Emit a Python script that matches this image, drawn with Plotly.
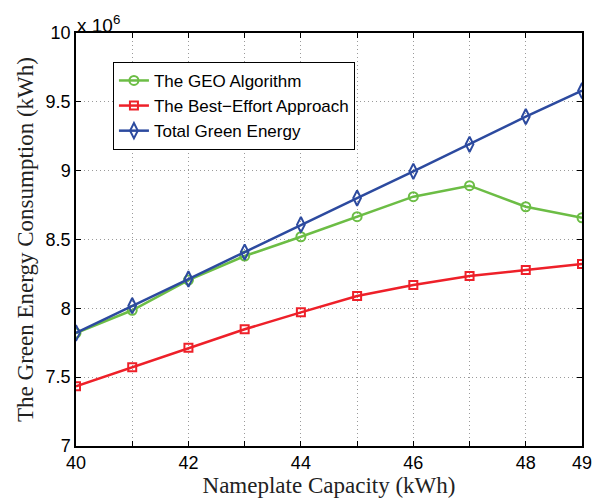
import plotly.graph_objects as go

capacity = [40, 41, 42, 43, 44, 45, 46, 47, 48, 49]
geo = [7.82, 7.986, 8.205, 8.38, 8.52, 8.666, 8.811, 8.891, 8.738, 8.658]
best_effort = [7.434, 7.572, 7.714, 7.848, 7.971, 8.09, 8.169, 8.235, 8.278, 8.322]
total_green = [7.821, 8.019, 8.213, 8.409, 8.608, 8.801, 8.995, 9.191, 9.392, 9.581]

x_tickvals = list(range(40, 50))
x_ticktext = ["40", "", "42", "", "44", "", "46", "", "48", "49"]
y_tickvals = [7, 7.5, 8, 8.5, 9, 9.5, 10]
y_ticktext = ["7", "7.5", "8", "8.5", "9", "9.5", "10"]

green = "#6cbd45"
red = "#ee2029"
blue = "#2c4a9f"

fig = go.Figure()
fig.add_trace(go.Scatter(x=capacity, y=geo, mode="lines+markers", name="The GEO Algorithm",
                         line=dict(color=green, width=2.5),
                         marker=dict(symbol="circle-open", size=9, color=green, line=dict(width=2))))
fig.add_trace(go.Scatter(x=capacity, y=best_effort, mode="lines+markers", name="The Best\u2212Effort Approach",
                         line=dict(color=red, width=2.5),
                         marker=dict(symbol="square-open", size=8, color=red, line=dict(width=2))))
fig.add_trace(go.Scatter(x=capacity, y=total_green, mode="lines+markers", name="Total Green Energy",
                         line=dict(color=blue, width=2.5),
                         marker=dict(symbol="diamond-tall-open", size=11, color=blue, line=dict(width=2))))

tick_font = dict(family="Liberation Sans, Arial", size=18, color="black")
title_font = dict(family="Liberation Serif, DejaVu Serif", size=23, color="#222222")

# the page body adds an 8 px offset; margins compensate
fig.update_layout(
    width=603, height=500,
    margin=dict(l=68, r=29, t=25, b=62),
    plot_bgcolor="white", paper_bgcolor="white",
    showlegend=True,
    legend=dict(x=0.073, y=0.93, xanchor="left", yanchor="top",
                bgcolor="white", bordercolor="black", borderwidth=1,
                font=dict(family="Liberation Sans, Arial", size=17, color="black"),
                tracegroupgap=0, itemwidth=30),
    xaxis=dict(range=[40, 49], tickvals=x_tickvals, ticktext=x_ticktext,
               ticks="inside", ticklen=5, tickcolor="black",
               showline=True, linecolor="black", linewidth=1.5, mirror="ticks",
               showgrid=True, gridcolor="#9a9a9a", griddash="1px,3px", gridwidth=1,
               zeroline=False, tickfont=tick_font, automargin=False,
               title=dict(text="Nameplate Capacity (kWh)", font=title_font, standoff=1)),
    yaxis=dict(range=[7, 10], tickvals=y_tickvals, ticktext=y_ticktext,
               ticks="inside", ticklen=5, tickcolor="black",
               showline=True, linecolor="black", linewidth=1.5, mirror="ticks",
               showgrid=True, gridcolor="#9a9a9a", griddash="1px,3px", gridwidth=1,
               zeroline=False, tickfont=tick_font, automargin=False,
               title=dict(text="The Green Energy Consumption (kWh)", font=title_font, standoff=6)),
)

fig.add_annotation(xref="paper", yref="paper", x=0.0, y=1.0, xanchor="left", yanchor="bottom",
                   text="x 10<sup>6</sup>", showarrow=False,
                   font=dict(family="Liberation Sans, Arial", size=19, color="black"),
                   xshift=-1, yshift=-5)

fig.write_html("out.html")
